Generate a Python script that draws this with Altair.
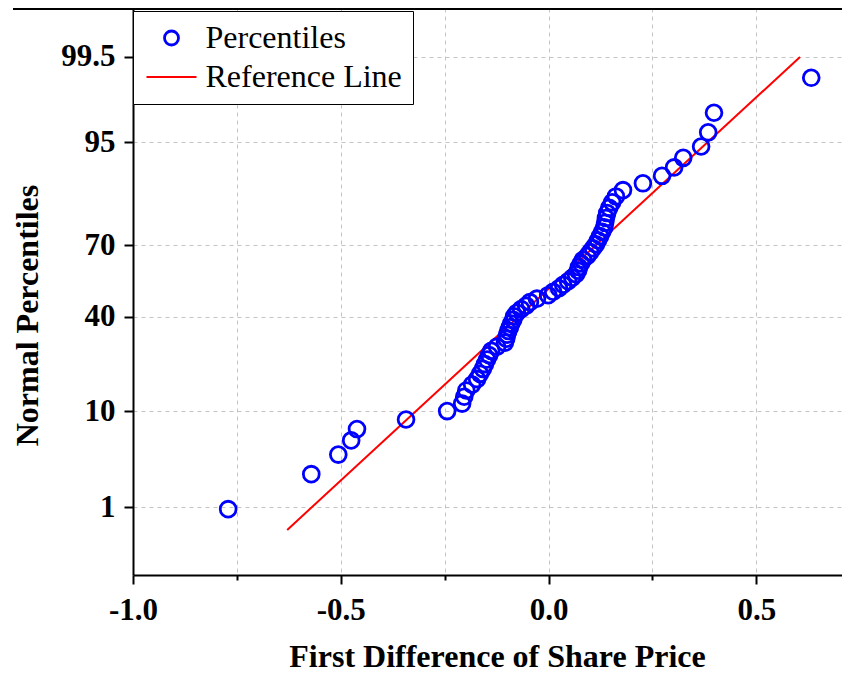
import altair as alt
import pandas as pd
from statistics import NormalDist

# ---- data ----
x_values = [-0.771, -0.571, -0.506, -0.475, -0.461, -0.343, -0.244, -0.208, -0.203, -0.198,
            -0.184, -0.172, -0.165, -0.158, -0.153, -0.148, -0.143, -0.138, -0.124, -0.105,
            -0.102, -0.100, -0.097, -0.093, -0.090, -0.085, -0.083, -0.076, -0.066, -0.054,
            -0.045, -0.028, -0.001, 0.011, 0.025, 0.035, 0.047, 0.057, 0.066, 0.071,
            0.073, 0.078, 0.083, 0.093, 0.100, 0.107, 0.114, 0.119, 0.124, 0.129,
            0.134, 0.136, 0.138, 0.141, 0.146, 0.153, 0.162, 0.179, 0.227, 0.273,
            0.302, 0.324, 0.367, 0.384, 0.398, 0.632]
percentiles = [0.94, 2.45, 3.96, 5.47, 6.98, 8.49, 10.00, 11.51, 13.02, 14.53,
               16.04, 17.55, 19.06, 20.57, 22.08, 23.58, 25.09, 26.60, 28.11, 29.62,
               31.13, 32.64, 34.15, 35.66, 37.17, 38.68, 40.19, 41.70, 43.21, 44.72,
               46.23, 47.74, 49.25, 50.75, 52.26, 53.77, 55.28, 56.79, 58.30, 59.81,
               61.32, 62.83, 64.34, 65.85, 67.36, 68.87, 70.38, 71.89, 73.40, 74.91,
               76.42, 77.92, 79.43, 80.94, 82.45, 83.96, 85.47, 86.98, 88.49, 90.00,
               91.51, 93.02, 94.53, 96.04, 97.55, 99.06]
ref_x = [-0.629, 0.605]
ref_pct = [0.5, 99.5]
y_ticks = [1, 10, 40, 70, 95, 99.5]
x_ticks = [-1.0, -0.75, -0.5, -0.25, 0.0, 0.25, 0.5]
series_names = ["Percentiles", "Reference Line"]

nd = NormalDist()
ytick_z = [nd.inv_cdf(p / 100) for p in y_ticks]

pts = pd.DataFrame({"x": x_values, "pct": percentiles, "series": series_names[0]})
ref = pd.DataFrame({"x": ref_x, "pct": ref_pct, "series": series_names[1]})

W, H = 709, 567
FONT = "Liberation Serif"

xscale = alt.Scale(domain=[-1.0, 0.706], nice=False, zero=False)
yscale = alt.Scale(domain=[-3.067, 3.1096], nice=False, zero=False)
cscale = alt.Scale(domain=series_names, range=["#0000FF", "#FF0000"])

minor = "abs(datum.value*2 - round(datum.value*2)) > 0.1"
x_axis = alt.Axis(
    values=x_ticks,
    labelExpr=minor + " ? '' : (datum.value < 0 ? '-' : '') + format(abs(datum.value), '.1f')",
    tickSize={"condition": {"test": minor, "value": 5}, "value": 9},
    labelFlush=False, labelOverlap=False, labelPadding=11,
    title="First Difference of Share Price",
    titleX=364, titleY=91, titleAlign="center", titleBaseline="alphabetic",
)
y_axis = alt.Axis(
    values=ytick_z,
    labelExpr="format(cumulativeNormal(datum.value)*100, '.3~')",
    tickSize=9, labelFlush=False, labelOverlap=False, labelPadding=9,
    title="Normal Percentiles",
    titleX=-96, titleY=307, titleAngle=270, titleAlign="center", titleBaseline="alphabetic",
)

legend = alt.Legend(
    title=None, orient="none", legendX=0, legendY=3, direction="vertical",
    padding=11, rowPadding=7, symbolSize=196, symbolOffset=11.5, labelOffset=18,
    labelFont=FONT, labelFontSize=32, labelColor="black", labelFontWeight="normal",
    labelLimit=0,
    strokeColor="black", fillColor="white", cornerRadius=0,
    symbolType={"expr": "(datum.value === 'Reference Line' ? 'M-3.571,0L3.571,0' : 'circle')"},
    symbolStrokeWidth={"expr": "(datum.value === 'Reference Line' ? 2 : 2.8)"},
    symbolFillColor="transparent", symbolOpacity=1,
)

color = alt.Color("series:N", scale=cscale, legend=legend)

points = alt.Chart(pts).transform_calculate(
    z="quantileNormal(datum.pct/100)"
).mark_point(shape="circle", filled=False, size=250, strokeWidth=2.8, opacity=1).encode(
    x=alt.X("x:Q", scale=xscale, axis=x_axis),
    y=alt.Y("z:Q", scale=yscale, axis=y_axis),
    color=color,
)

line = alt.Chart(ref).transform_calculate(
    z="quantileNormal(datum.pct/100)"
).mark_line(strokeWidth=2).encode(
    x=alt.X("x:Q", scale=xscale),
    y=alt.Y("z:Q", scale=yscale),
    color=color,
)

top_rule = alt.Chart(pd.DataFrame({"a": [0]})).mark_rule(color="black", strokeWidth=2).encode(
    x=alt.value(-120), x2=alt.value(W), y=alt.value(1)
)

chart = alt.layer(line, points, top_rule).properties(
    width=W, height=H,
    padding={"left": 125, "top": 0, "right": 0, "bottom": 97},
    autosize=alt.AutoSizeParams(type="none"),
).configure_view(stroke=None).configure_axis(
    domainColor="black", domainWidth=2, tickColor="black", tickWidth=2,
    labelFont=FONT, labelFontSize=31, labelFontWeight="bold", labelColor="black",
    titleFont=FONT, titleFontSize=32, titleFontWeight="bold", titleColor="black",
    grid=True, gridColor="#c4c4c4", gridDash=[4, 4], gridWidth=1,
)

chart.save("out.html", embed_options={"renderer": "svg", "actions": False})
